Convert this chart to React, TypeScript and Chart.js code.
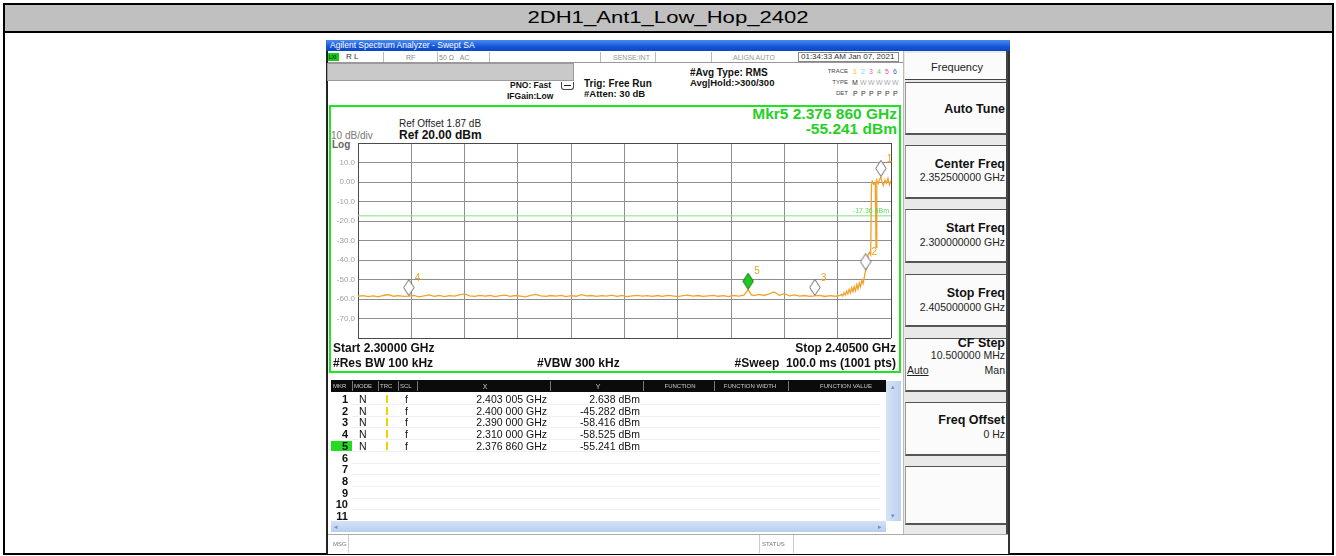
import React, { useEffect, useRef } from 'react';
import { Chart, registerables } from 'chart.js';
Chart.register(...registerables);

const FONT = '"Liberation Sans", Arial, Helvetica, sans-serif';

const pageTitle = '2DH1_Ant1_Low_Hop_2402';

const freqGHz = [
  2.300, 2.301, 2.302, 2.303, 2.304, 2.305, 2.306, 2.307, 2.308, 2.309,
  2.310, 2.311, 2.312, 2.313, 2.314, 2.315, 2.316, 2.317, 2.318, 2.319,
  2.320, 2.321, 2.322, 2.323, 2.324, 2.325, 2.326, 2.327, 2.328, 2.329,
  2.330, 2.331, 2.332, 2.333, 2.334, 2.335, 2.336, 2.337, 2.338, 2.339,
  2.340, 2.341, 2.342, 2.343, 2.344, 2.345, 2.346, 2.347, 2.348, 2.349,
  2.350, 2.351, 2.352, 2.353, 2.354, 2.355, 2.356, 2.357, 2.358, 2.359,
  2.360, 2.361, 2.362, 2.363, 2.364, 2.365, 2.366, 2.367, 2.368, 2.369,
  2.370, 2.371, 2.372, 2.373, 2.374, 2.375, 2.376, 2.37686, 2.3775, 2.378, 2.379,
  2.380, 2.381, 2.382, 2.383, 2.384, 2.385, 2.386, 2.387, 2.388, 2.389,
  2.390, 2.391, 2.392, 2.393, 2.394, 2.395,
  2.39525, 2.3955, 2.39575, 2.396, 2.39625, 2.3965, 2.39675, 2.397, 2.39725, 2.3975,
  2.39775, 2.398, 2.39825, 2.3985, 2.39875, 2.399, 2.39925, 2.3995, 2.39975,
  2.400, 2.40025, 2.4005, 2.40075, 2.401, 2.40115, 2.4013, 2.4016, 2.4019, 2.40205,
  2.4022, 2.4025, 2.4028, 2.403005, 2.4032, 2.4035, 2.4038, 2.4041, 2.4044, 2.4047, 2.405,
];

const levelDbm = [
  -58.6, -58.3, -58.8, -58.4, -58.9, -58.2, -57.7, -58.6, -58.3, -58.7,
  -58.5, -58.1, -58.9, -58.4, -57.9, -58.6, -58.2, -58.8, -58.3, -58.5,
  -57.9, -57.4, -58.4, -58.7, -58.1, -58.5, -58.2, -58.8, -58.3, -58.0,
  -58.6, -58.2, -58.5, -58.9, -58.1, -57.6, -58.4, -58.7, -58.2, -58.5,
  -58.1, -58.8, -58.3, -58.6, -57.8, -58.4, -58.2, -58.7, -58.3, -58.5,
  -58.0, -58.6, -58.2, -58.8, -58.4, -58.1, -58.5, -58.3, -58.7, -58.2,
  -58.6, -58.1, -58.4, -58.8, -58.3, -58.0, -58.5, -58.2, -58.7, -58.4,
  -58.1, -58.6, -58.3, -58.8, -58.2, -58.5, -58.0, -55.241, -57.9, -58.3, -57.6,
  -58.2, -57.4, -56.4, -58.1, -57.3, -58.4, -57.9, -58.5, -58.2, -58.6,
  -58.416, -58.1, -58.7, -58.3, -58.6, -58.2,
  -57.6, -58.4, -56.8, -57.9, -55.9, -57.4, -55.1, -56.9, -54.2, -56.3,
  -53.6, -55.8, -52.7, -54.9, -51.8, -53.7, -50.4, -52.1, -48.6,
  -45.282, -43.8, -37.2, -36.1, -37.4, -1.8, 0.4, -1.2, -0.3, -33.5,
  0.9, -0.8, 1.6, 2.638, 0.2, -1.9, 1.1, -0.6, 1.8, -1.4, 0.7,
];

const markerNo = [1, 2, 3, 4, 5];
const markerGHz = [2.403005, 2.4, 2.39, 2.31, 2.37686];
const markerDbm = [2.638, -45.282, -58.416, -58.525, -55.241];
const activeMarker = 5;

const xGridGHz = [2.3, 2.3105, 2.321, 2.3315, 2.342, 2.3525, 2.363, 2.3735, 2.384, 2.3945, 2.405];
const yGridDbm = [20, 10, 0, -10, -20, -30, -40, -50, -60, -70, -80];
const yTickLabels = ['', '10.0', '0.00', '-10.0', '-20.0', '-30.0', '-40.0', '-50.0', '-60.0', '-70.0', ''];

const displayLineDbm = -17.36;
const displayLineLabel = '-17.36 dBm';

const softkeys = [
  { title: 'Auto Tune', value: '' },
  { title: 'Center Freq', value: '2.352500000 GHz' },
  { title: 'Start Freq', value: '2.300000000 GHz' },
  { title: 'Stop Freq', value: '2.405000000 GHz' },
  { title: 'CF Step', value: '10.500000 MHz' },
  { title: 'Freq Offset', value: '0 Hz' },
];

type TP = { x: number; y: number; t: string; s?: number; b?: boolean; c?: string; a?: 'l' | 'r' | 'c'; u?: boolean };
const T = ({ x, y, t, s = 10, b = false, c = '#111', a = 'l', u = false }: TP) => {
  const lh = Math.round(s * 1.3);
  const st: any = {
    position: 'absolute', top: y - lh / 2, lineHeight: lh + 'px', height: lh, fontSize: s,
    fontWeight: b ? 'bold' : 'normal', color: c, whiteSpace: 'pre', fontFamily: FONT,
    textDecoration: u ? 'underline' : 'none',
  };
  if (a === 'l') st.left = x;
  else if (a === 'r') st.right = 1336 - x;
  else { st.left = x; st.transform = 'translateX(-50%)'; }
  return <div style={st}>{t}</div>;
};

const B = ({ x1, y1, x2, y2, st }: { x1: number; y1: number; x2: number; y2: number; st?: any }) => (
  <div style={{ position: 'absolute', left: x1, top: y1, width: x2 - x1, height: y2 - y1, boxSizing: 'border-box', ...(st || {}) }} />
);

function diamond(fill: string, stroke: string) {
  const c = document.createElement('canvas');
  c.width = 12; c.height = 34;
  const g = c.getContext('2d')!;
  g.beginPath();
  g.moveTo(6, 0.5); g.lineTo(11.2, 8.5); g.lineTo(6, 16.5); g.lineTo(0.8, 8.5); g.closePath();
  g.fillStyle = fill; g.fill();
  g.strokeStyle = stroke; g.lineWidth = 1; g.stroke();
  return c;
}

function fmtGHz(f: number) {
  const s = f.toFixed(6);
  return s.slice(0, 5) + ' ' + s.slice(5) + ' GHz';
}

const ChartView = () => {
  const ref = useRef<HTMLCanvasElement>(null);
  useEffect(() => {
    const cv = ref.current!;
    const normal = diamond('#ffffff', '#6a6a6a');
    const active = diamond('#22c822', '#137013');
    const overlay = {
      id: 'overlay',
      afterDatasetsDraw(chart: any) {
        const { ctx, chartArea } = chart;
        const xs = chart.scales.x, ys = chart.scales.y;
        ctx.save();
        ctx.font = '7px ' + FONT;
        ctx.fillStyle = '#5fd85f';
        ctx.textAlign = 'right';
        ctx.textBaseline = 'bottom';
        ctx.fillText(displayLineLabel, chartArea.right - 2, ys.getPixelForValue(displayLineDbm) - 1);
        ctx.font = '10px ' + FONT;
        ctx.fillStyle = '#f0a020';
        ctx.textAlign = 'left';
        ctx.textBaseline = 'middle';
        markerNo.forEach((n, i) => {
          const px = xs.getPixelForValue(markerGHz[i]);
          const py = ys.getPixelForValue(markerDbm[i]);
          ctx.fillText(String(n), px + 6, py - 18);
        });
        ctx.restore();
      },
    };
    const edge = (v: number, a: number, b: number) => Math.abs(v - a) < 1e-9 || Math.abs(v - b) < 1e-9;
    const chart = new Chart(cv, {
      type: 'line',
      data: {
        datasets: [
          {
            label: 'markers',
            data: markerGHz.map((x, i) => ({ x, y: markerDbm[i] })),
            showLine: false,
            pointStyle: markerNo.map((n) => (n === activeMarker ? active : normal)) as any,
            pointRadius: 8,
            order: 0,
          } as any,
          {
            label: 'trace',
            data: freqGHz.map((x, i) => ({ x, y: levelDbm[i] })),
            borderColor: '#f2a22a',
            borderWidth: 1.3,
            pointRadius: 0,
            tension: 0,
            order: 1,
          },
          {
            label: 'dl',
            data: [{ x: xGridGHz[0], y: displayLineDbm }, { x: xGridGHz[xGridGHz.length - 1], y: displayLineDbm }],
            borderColor: '#7fe37f',
            borderWidth: 1,
            pointRadius: 0,
            order: 2,
          },
        ],
      },
      options: {
        animation: false,
        responsive: false,
        devicePixelRatio: 1,
        events: [],
        layout: { padding: { left: 0, top: 36, right: 1, bottom: 32 } },
        plugins: { legend: { display: false }, tooltip: { enabled: false } },
        scales: {
          x: {
            type: 'linear',
            min: xGridGHz[0],
            max: xGridGHz[xGridGHz.length - 1],
            afterBuildTicks: (s: any) => { s.ticks = xGridGHz.map((v) => ({ value: v })); },
            afterFit: (s: any) => { s.height = 0; },
            ticks: { display: false },
            grid: {
              drawTicks: false,
              color: (c: any) => (edge(c.tick?.value, 2.3, 2.405) ? '#4a4a4a' : '#8e8e8e'),
              lineWidth: 1,
            },
            border: { display: false },
          },
          y: {
            type: 'linear',
            min: -80,
            max: 20,
            afterBuildTicks: (s: any) => { s.ticks = yGridDbm.map((v) => ({ value: v })); },
            afterFit: (s: any) => { s.width = 28; },
            ticks: {
              callback: (v: any) => yTickLabels[yGridDbm.indexOf(Number(v))] ?? '',
              font: { size: 8, family: FONT },
              color: '#a0a0a0',
              padding: 3,
            },
            grid: {
              drawTicks: false,
              color: (c: any) => (edge(c.tick?.value, 20, -80) ? '#4a4a4a' : '#8e8e8e'),
              lineWidth: 1,
            },
            border: { display: true, color: '#4a4a4a' },
          },
        },
      },
      plugins: [overlay],
    } as any);
    return () => chart.destroy();
  }, []);
  return (
    <canvas ref={ref} width={570} height={263}
      style={{ position: 'absolute', left: 330, top: 107, width: 570, height: 263 }} />
  );
};

export default function App() {
  const traceColors = ['#f0c000', '#70d8f0', '#e060e0', '#60d060', '#e04fa0', '#4060e0'];
  const statusSeps = [383, 437, 489, 600, 655, 711];
  const headSeps = [352, 378, 398, 417, 550, 643, 714, 788];
  const boxes = [
    [82, 135], [145, 199], [209, 263], [274, 327], [338, 392], [402, 456],
  ];
  const titleY = [109, 164, 228, 293, 343, 420];
  const valueY = [0, 177, 242, 307, 355, 434];
  return (
    <div style={{ position: 'absolute', left: 0, top: 0, width: 1336, height: 556, background: '#fff', overflow: 'hidden', fontFamily: FONT }}>
      {/* outer table */}
      <B x1={3} y1={3} x2={1334} y2={555} st={{ border: '2px solid #000', background: '#fff' }} />
      <B x1={5} y1={5} x2={1332} y2={31} st={{ background: '#c0c0c0' }} />
      <B x1={5} y1={31} x2={1332} y2={33} st={{ background: '#000' }} />
      <div style={{ position: 'absolute', left: 668, top: 8, lineHeight: '20px', fontSize: 16, whiteSpace: 'pre', transform: 'translateX(-50%) scaleX(1.38)', color: '#000' }}>{pageTitle}</div>

      {/* screenshot frame */}
      <B x1={326} y1={40} x2={1010} y2={554} st={{ background: '#fff', borderLeft: '2px solid #222', borderRight: '2px solid #333' }} />
      <B x1={326} y1={40} x2={1010} y2={51} st={{ background: 'linear-gradient(to bottom, #4a8af4, #1456d8 60%, #0d47c0)' }} />
      <T x={330} y={45.5} t="Agilent Spectrum Analyzer - Swept SA" s={8.5} c="#fff" />

      {/* status row */}
      <B x1={328} y1={51} x2={1008} y2={63} st={{ background: '#fff', borderBottom: '1px solid #999' }} />
      <B x1={328} y1={53} x2={339} y2={61} st={{ background: '#19c819' }} />
      <T x={329} y={57} t="LXI" s={5} c="#000" />
      <T x={346} y={57} t="R L" s={8} c="#333" />
      <T x={406} y={57} t="RF" s={7} c="#888" />
      <T x={439} y={57} t="50 Ω   AC" s={7} c="#888" />
      <T x={613} y={57} t="SENSE:INT" s={7} c="#999" />
      <T x={733} y={57} t="ALIGN AUTO" s={7} c="#999" />
      {statusSeps.map((x) => <B key={x} x1={x} y1={52} x2={x + 1} y2={62} st={{ background: '#bbb' }} />)}
      <B x1={798} y1={52} x2={899} y2={62} st={{ border: '1px solid #888' }} />
      <T x={801} y={57} t="01:34:33 AM Jan 07, 2021" s={8} c="#333" />

      {/* second info row */}
      <B x1={327} y1={63} x2={574} y2={81} st={{ background: '#c9c9c9', border: '1px solid #9a9a9a' }} />
      <T x={510} y={85} t="PNO: Fast" s={8.5} b />
      <T x={507} y={96} t="IFGain:Low" s={8.5} b />
      <B x1={561} y1={82} x2={574} y2={90} st={{ border: '1px solid #444', borderTop: 'none', borderRadius: '0 0 3px 3px' }} />
      <B x1={564} y1={85} x2={571} y2={86} st={{ background: '#222' }} />
      <T x={584} y={83} t="Trig: Free Run" s={10} b />
      <T x={584} y={94} t="#Atten: 30 dB" s={9.5} b />
      <T x={690} y={72} t="#Avg Type: RMS" s={10} b />
      <T x={690} y={83} t="Avg|Hold:>300/300" s={9.5} b />
      <T x={848} y={71} t="TRACE" s={6} c="#444" a="r" />
      <T x={848} y={82} t="TYPE" s={6} c="#444" a="r" />
      <T x={848} y={93} t="DET" s={6} c="#444" a="r" />
      {traceColors.map((c, i) => (
        <React.Fragment key={i}>
          <T x={853 + i * 8} y={71} t={String(i + 1)} s={7} c={c} />
          <T x={852 + i * 8} y={82} t={i === 0 ? 'M' : 'W'} s={7} c={i === 0 ? '#333' : '#aaa'} />
          <T x={853 + i * 8} y={93} t="P" s={7} c="#333" />
        </React.Fragment>
      ))}

      {/* plot frame */}
      <B x1={329} y1={105} x2={901} y2={373} st={{ border: '2px solid #1ee61e' }} />
      <T x={399} y={123} t="Ref Offset 1.87 dB" s={10} c="#222" />
      <T x={399} y={135} t="Ref 20.00 dBm" s={12} b c="#111" />
      <T x={331} y={135} t="10 dB/div" s={10} c="#777" />
      <T x={332} y={144} t="Log" s={10} b c="#666" />
      <T x={897} y={114} t="Mkr5 2.376 860 GHz" s={15.5} b c="#25d025" a="r" />
      <T x={897} y={129} t="-55.241 dBm" s={15.5} b c="#25d025" a="r" />
      <ChartView />
      <T x={333} y={348} t="Start 2.30000 GHz" s={12} b />
      <T x={896} y={348} t="Stop 2.40500 GHz" s={12} b a="r" />
      <T x={333} y={363} t="#Res BW 100 kHz" s={12} b />
      <T x={537} y={363} t="#VBW 300 kHz" s={12} b />
      <T x={896} y={363} t="#Sweep  100.0 ms (1001 pts)" s={12} b a="r" />

      {/* marker table */}
      <B x1={331} y1={380} x2={886} y2={392} st={{ background: '#0b0b0b' }} />
      {headSeps.map((x) => <B key={x} x1={x} y1={381} x2={x + 1} y2={391} st={{ background: '#777' }} />)}
      <T x={333} y={386} t="MKR" s={6} c="#ccc" />
      <T x={354} y={386} t="MODE" s={6} c="#ccc" />
      <T x={380} y={386} t="TRC" s={6} c="#ccc" />
      <T x={400} y={386} t="SCL" s={6} c="#ccc" />
      <T x={485} y={386} t="X" s={7} c="#ccc" a="c" />
      <T x={598} y={386} t="Y" s={7} c="#ccc" a="c" />
      <T x={680} y={386} t="FUNCTION" s={6} c="#ccc" a="c" />
      <T x={750} y={386} t="FUNCTION WIDTH" s={6} c="#ccc" a="c" />
      <T x={846} y={386} t="FUNCTION VALUE" s={6} c="#ccc" a="c" />
      <B x1={331} y1={441} x2={352} y2={451} st={{ background: '#22dd22' }} />
      {Array.from({ length: 11 }, (_, i) => {
        const y = 399 + i * 11.7;
        const has = i < markerNo.length;
        return (
          <React.Fragment key={i}>
            <B x1={352} y1={y + 5} x2={880} y2={y + 6} st={{ background: '#f0f0f0' }} />
            <T x={348} y={y} t={String(i + 1)} s={11} b a="r" />
            {has && <T x={359} y={y} t="N" s={10.5} />}
            {has && <B x1={386} y1={y - 4} x2={388} y2={y + 4} st={{ background: '#f5d000' }} />}
            {has && <T x={405} y={y} t="f" s={10.5} />}
            {has && <T x={547} y={y} t={fmtGHz(markerGHz[i])} s={10.5} a="r" />}
            {has && <T x={640} y={y} t={markerDbm[i].toFixed(3) + ' dBm'} s={10.5} a="r" />}
          </React.Fragment>
        );
      })}
      <B x1={886} y1={381} x2={901} y2={521} st={{ background: 'linear-gradient(to right, #d6e3f7, #bcd0f0)' }} />
      <T x={893} y={386} t="▴" s={7} c="#7a90b8" a="c" />
      <T x={893} y={515} t="▾" s={7} c="#7a90b8" a="c" />
      <B x1={331} y1={521} x2={886} y2={532} st={{ background: 'linear-gradient(to bottom, #d4e2f8, #b8cdef)' }} />
      <T x={334} y={526} t="◂" s={7} c="#7a90b8" />
      <T x={878} y={526} t="▸" s={7} c="#7a90b8" />

      {/* status bar */}
      <B x1={328} y1={534} x2={1008} y2={554} st={{ background: '#fff', borderTop: '1px solid #aaa' }} />
      <T x={333} y={544} t="MSG" s={6} c="#777" />
      <B x1={348} y1={535} x2={349} y2={553} st={{ background: '#ccc' }} />
      <B x1={759} y1={535} x2={760} y2={553} st={{ background: '#ccc' }} />
      <T x={762} y={544} t="STATUS" s={6} c="#777" />
      <B x1={793} y1={535} x2={794} y2={553} st={{ background: '#ccc' }} />

      {/* softkey panel */}
      <B x1={903} y1={51} x2={1008} y2={534} st={{ background: '#e9e9e9', borderLeft: '1px solid #bbb', borderRight: '2px solid #444' }} />
      <B x1={905} y1={53} x2={1006} y2={80} st={{ background: '#fbfbfb', borderBottom: '1px solid #444' }} />
      <T x={957} y={67} t="Frequency" s={11} c="#222" a="c" />
      {boxes.map(([a, b], i) => (
        <React.Fragment key={i}>
          <B x1={905} y1={a} x2={1006} y2={b} st={{ background: '#fbfbfb', borderTop: '1px solid #555', borderBottom: '2px solid #555', borderLeft: '1px solid #999' }} />
          <T x={1005} y={titleY[i]} t={softkeys[i].title} s={12.5} b a="r" />
          {softkeys[i].value && <T x={1005} y={valueY[i]} t={softkeys[i].value} s={10.5} c="#222" a="r" />}
        </React.Fragment>
      ))}
      <T x={907} y={370} t="Auto" s={10.5} c="#222" u />
      <T x={1005} y={370} t="Man" s={10.5} c="#222" a="r" />
      <B x1={905} y1={466} x2={1006} y2={525} st={{ background: '#fbfbfb', borderTop: '1px solid #555', borderBottom: '2px solid #555', borderLeft: '1px solid #999' }} />
    </div>
  );
}
